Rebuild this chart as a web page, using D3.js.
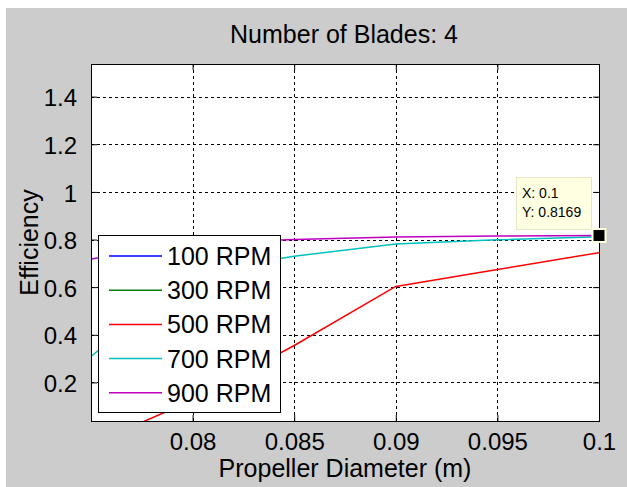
<!DOCTYPE html>
<html>
<head>
<meta charset="utf-8">
<script src="https://cdn.jsdelivr.net/npm/d3@7"></script>
<style>
  body { margin: 0; background: #fff; }
  text { font-family: "Liberation Sans", Arial, sans-serif; fill: #000; }
</style>
</head>
<body>
<div id="chart"></div>
<script>
// propeller diameter (m)
const diameters = [0.075, 0.08, 0.085, 0.09, 0.095, 0.1];
// efficiency per rpm, 100 and 300 RPM sit below the visible window
const rpm100 = [null, null, null, null, null, null];
const rpm300 = [null, null, null, null, null, null];
const rpm500 = [-0.06, 0.125, 0.355, 0.603, 0.674, 0.745];
const rpm700 = [0.309, 0.66, 0.73, 0.781, 0.799, 0.812];
const rpm900 = [0.718, 0.785, 0.800, 0.811, 0.815, 0.8169];

const seriesNames = ["100 RPM", "300 RPM", "500 RPM", "700 RPM", "900 RPM"];
const seriesColors = ["#0000ff", "#008000", "#ff0000", "#00bfbf", "#bf00bf"];
const seriesValues = [rpm100, rpm300, rpm500, rpm700, rpm900];

const xTicks = [0.08, 0.085, 0.09, 0.095, 0.1];
const xTickLabels = ["0.08", "0.085", "0.09", "0.095", "0.1"];
const yTicks = [0.2, 0.4, 0.6, 0.8, 1, 1.2, 1.4];
const yTickLabels = ["0.2", "0.4", "0.6", "0.8", "1", "1.2", "1.4"];

const tip = { x: 0.1, y: 0.8169 };

const W = 627, H = 487;
const pL = 91, pR = 599, pT = 64, pB = 421;

const svg = d3.select("#chart")
    .append("svg")
    .attr("width", W)
    .attr("height", H);

svg.append("rect")
    .attr("x", 6).attr("y", 8)
    .attr("width", W - 6).attr("height", H - 8)
    .attr("fill", "#cccccc");

const x = d3.scaleLinear().domain([0.075, 0.1]).range([pL, pR]);
const y = d3.scaleLinear().domain([0.038, 1.537]).range([pB, pT]);

svg.append("rect")
    .attr("x", pL).attr("y", pT)
    .attr("width", pR - pL).attr("height", pB - pT)
    .attr("fill", "#fff");

svg.append("clipPath").attr("id", "plot-clip")
    .append("rect")
    .attr("x", pL).attr("y", pT)
    .attr("width", pR - pL).attr("height", pB - pT);

// grid
const grid = svg.append("g")
    .attr("stroke", "#000")
    .attr("stroke-width", 1)
    .attr("stroke-dasharray", "3,3")
    .attr("shape-rendering", "crispEdges");

grid.selectAll("line.gx")
    .data(xTicks.filter(d => d < 0.1))
    .enter()
    .append("line")
    .attr("x1", d => Math.round(x(d)) + 0.5)
    .attr("x2", d => Math.round(x(d)) + 0.5)
    .attr("y1", pT)
    .attr("y2", pB);

grid.selectAll("line.gy")
    .data(yTicks)
    .enter()
    .append("line")
    .attr("x1", pL)
    .attr("x2", pR)
    .attr("y1", d => Math.round(y(d)) + 0.5)
    .attr("y2", d => Math.round(y(d)) + 0.5);

// lines
const line = d3.line()
    .defined(d => d[1] != null)
    .x(d => x(d[0]))
    .y(d => y(d[1]));

svg.append("g")
    .attr("clip-path", "url(#plot-clip)")
    .selectAll("path")
    .data(seriesValues)
    .enter()
    .append("path")
    .attr("d", vals => line(diameters.map((d, i) => [d, vals[i]])))
    .attr("fill", "none")
    .attr("stroke", (d, i) => seriesColors[i])
    .attr("stroke-width", 1.5);

// axes
const xAxis = svg.append("g")
    .attr("transform", `translate(0,${pB})`)
    .call(d3.axisBottom(x)
        .tickValues(xTicks)
        .tickFormat((d, i) => xTickLabels[i])
        .tickSizeInner(-6)
        .tickSizeOuter(0)
        .tickPadding(12));

const yAxis = svg.append("g")
    .attr("transform", `translate(${pL},0)`)
    .call(d3.axisLeft(y)
        .tickValues(yTicks)
        .tickFormat((d, i) => yTickLabels[i])
        .tickSizeInner(-6)
        .tickSizeOuter(0)
        .tickPadding(14));

[xAxis, yAxis].forEach(a => {
    a.select(".domain").remove();
    a.selectAll("line").attr("stroke", "#000");
    a.selectAll("text")
        .style("font-size", "24px")
        .attr("fill", "#000");
});
xAxis.selectAll("text").attr("dy", "0.72em");
yAxis.selectAll("text").attr("dy", "0.38em");

// ticks on the top and right sides too
svg.append("g")
    .attr("transform", `translate(0,${pT})`)
    .call(d3.axisTop(x).tickValues(xTicks).tickFormat("").tickSizeInner(-6).tickSizeOuter(0))
    .call(g => g.select(".domain").remove());
svg.append("g")
    .attr("transform", `translate(${pR},0)`)
    .call(d3.axisRight(y).tickValues(yTicks).tickFormat("").tickSizeInner(-6).tickSizeOuter(0))
    .call(g => g.select(".domain").remove());

svg.append("rect")
    .attr("x", pL + 0.5).attr("y", pT + 0.5)
    .attr("width", pR - pL).attr("height", pB - pT)
    .attr("fill", "none")
    .attr("stroke", "#000")
    .attr("stroke-width", 1);

// labels
svg.append("text")
    .attr("x", 344).attr("y", 43)
    .attr("text-anchor", "middle")
    .style("font-size", "25px")
    .text("Number of Blades: 4");

svg.append("text")
    .attr("x", (pL + pR) / 2).attr("y", 477)
    .attr("text-anchor", "middle")
    .style("font-size", "25px")
    .text("Propeller Diameter (m)");

svg.append("text")
    .attr("transform", `translate(38,${(pT + pB) / 2}) rotate(-90)`)
    .attr("text-anchor", "middle")
    .style("font-size", "25px")
    .text("Efficiency");

// legend
const legend = svg.append("g");
legend.append("rect")
    .attr("x", 98.5).attr("y", 235.5)
    .attr("width", 182).attr("height", 177)
    .attr("fill", "#fff")
    .attr("stroke", "#000")
    .attr("stroke-width", 1);

const rows = legend.selectAll("g.row")
    .data(seriesNames)
    .enter()
    .append("g")
    .attr("transform", (d, i) => `translate(0,${256 + i * 34.2})`);

rows.append("line")
    .attr("x1", 109).attr("x2", 162)
    .attr("stroke", (d, i) => seriesColors[i])
    .attr("stroke-width", 1.5);

rows.append("text")
    .attr("x", 167)
    .attr("dy", "0.36em")
    .style("font-size", "25px")
    .text(d => d);

// data tip
const tg = svg.append("g");
tg.append("rect")
    .attr("x", 516.5).attr("y", 177.5)
    .attr("width", 75).attr("height", 52)
    .attr("fill", "#ffffe1")
    .attr("stroke", "#e6e6c8");
tg.append("text")
    .attr("x", 522).attr("y", 198)
    .style("font-size", "14px")
    .text("X: " + tip.x);
tg.append("text")
    .attr("x", 522).attr("y", 217)
    .style("font-size", "14px")
    .text("Y: " + tip.y);
tg.append("rect")
    .attr("x", x(tip.x) - 6.5).attr("y", y(tip.y) - 6.5)
    .attr("width", 13).attr("height", 13)
    .attr("fill", "#000")
    .attr("stroke", "#ffffe1")
    .attr("stroke-width", 2);
</script>
</body>
</html>
